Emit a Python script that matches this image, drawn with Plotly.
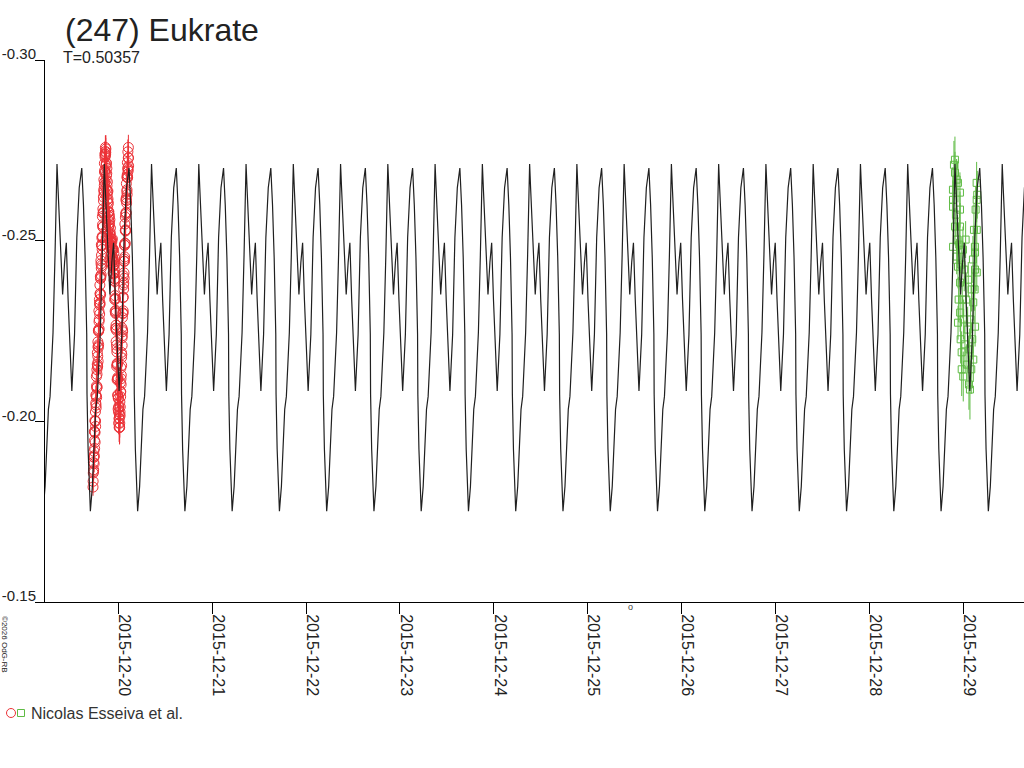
import pandas as pd
import plotly.graph_objects as go

# ---------------- data ----------------
title_text = "(247) Eukrate"
period_label = "T=0.50357"
observer = "Nicolas Esseiva et al."
credit = "©2026 OdG-RB"
marker_note = "o"

ref_date = "2015-12-20"          # day offsets below are relative to this date (UT)
period_days = 0.50357
epoch_days = 1.8645              # time of the main maximum of the model curve

# one cycle of the model light curve (phase in units of the period, magnitude)
profile_phase = [0.000, 0.021, 0.050, 0.071, 0.099, 0.119, 0.160, 0.197, 0.235, 0.266,
                 0.294, 0.314, 0.371, 0.419, 0.470, 0.524, 0.560, 0.595, 0.629, 0.635,
                 0.658, 0.686, 0.706, 0.748, 0.784, 0.818, 0.853, 0.889, 0.916, 0.958,
                 0.979]
profile_mag = [-0.2712, -0.2646, -0.2553, -0.2461, -0.2378, -0.2351, -0.2440, -0.2494, -0.2337, -0.2227,
               -0.2144, -0.2084, -0.2240, -0.2508, -0.2646, -0.2701, -0.2599, -0.2453, -0.2240, -0.2075,
               -0.1923, -0.1793, -0.1751, -0.1820, -0.1959, -0.2033, -0.2069, -0.2163, -0.2246, -0.2461,
               -0.2646]

red_days = [-0.2696, -0.2669, -0.2643, -0.2616, -0.2589, -0.2563, -0.2536, -0.2510, -0.2483, -0.2456,
            -0.2430, -0.2403, -0.2376, -0.2350, -0.2323, -0.2296, -0.2270, -0.2243, -0.2217, -0.2190,
            -0.2163, -0.2137, -0.2110, -0.2083, -0.2057, -0.2030, -0.2003, -0.1977, -0.1950, -0.1924,
            -0.1897, -0.1870, -0.1844, -0.1817, -0.1790, -0.1764, -0.1737, -0.1710, -0.1684, -0.1657,
            -0.1631, -0.1604, -0.1577, -0.1551, -0.1524, -0.1497, -0.1471, -0.1444, -0.1417, -0.1391,
            -0.1364, -0.1338, -0.1311, -0.1284, -0.1258, -0.1231, -0.1204, -0.1178, -0.1151, -0.1124,
            -0.1098, -0.1071, -0.1045, -0.1018, -0.0991, -0.0965, -0.0938, -0.0911, -0.0885, -0.0858,
            -0.0831, -0.0805, -0.0778, -0.0752, -0.0725, -0.0698, -0.0672, -0.0645, -0.0618, -0.0592,
            -0.0565, -0.0538, -0.0512, -0.0485, -0.0459, -0.0432, -0.0405, -0.0379, -0.0352, -0.0325,
            -0.0299, -0.0272, -0.0245, -0.0219, -0.0192, -0.0166, -0.0139, -0.0112, -0.0086, -0.0059,
            -0.0032, -0.0006, 0.0021, 0.0048, 0.0074, 0.0101, 0.0128, 0.0154, 0.0181, 0.0208,
            0.0234, 0.0261, 0.0287, 0.0314, 0.0341, 0.0367, 0.0394, 0.0421, 0.0447, 0.0474,
            0.0501, 0.0527, 0.0554, 0.0580, 0.0607, 0.0634, 0.0660, 0.0687, 0.0714, 0.0740,
            0.0767, 0.0793, 0.0820, 0.0847, 0.0873, 0.0900, 0.0927, 0.0953, 0.0980, 0.1006,
            0.1033, 0.1060, 0.1086]
red_mag = [-0.1818, -0.1857, -0.1862, -0.1901, -0.1901, -0.1905, -0.1947, -0.1971, -0.1969, -0.2000,
           -0.2001, -0.2051, -0.2045, -0.2070, -0.2098, -0.2092, -0.2130, -0.2158, -0.2153, -0.2180,
           -0.2207, -0.2204, -0.2249, -0.2252, -0.2276, -0.2282, -0.2327, -0.2322, -0.2353, -0.2354,
           -0.2395, -0.2398, -0.2436, -0.2424, -0.2460, -0.2486, -0.2487, -0.2512, -0.2544, -0.2538,
           -0.2576, -0.2577, -0.2610, -0.2641, -0.2637, -0.2653, -0.2690, -0.2695, -0.2731, -0.2735,
           -0.2747,
           -0.2744, -0.2708, -0.2714, -0.2680, -0.2686, -0.2652, -0.2627, -0.2636, -0.2607, -0.2615,
           -0.2578, -0.2579, -0.2556, -0.2566, -0.2543, -0.2550, -0.2519, -0.2516, -0.2522, -0.2488,
           -0.2499, -0.2479, -0.2494, -0.2463, -0.2475, -0.2453, -0.2477, -0.2456, -0.2474, -0.2445,
           -0.2449, -0.2430, -0.2440, -0.2411, -0.2421, -0.2395, -0.2395, -0.2348, -0.2341, -0.2299,
           -0.2301, -0.2266, -0.2258, -0.2211, -0.2201, -0.2158, -0.2156, -0.2118, -0.2116, -0.2071,
           -0.2063, -0.2026, -0.2039, -0.2007, -0.2009, -0.1984,
           -0.1995, -0.2026, -0.2040, -0.2081, -0.2082, -0.2118, -0.2128, -0.2176, -0.2185, -0.2231,
           -0.2237, -0.2253, -0.2298, -0.2300, -0.2344, -0.2377, -0.2383, -0.2411, -0.2449, -0.2443,
           -0.2487, -0.2493, -0.2528, -0.2530, -0.2573, -0.2578, -0.2619, -0.2611, -0.2636, -0.2641,
           -0.2683, -0.2676, -0.2701, -0.2697, -0.2729, -0.2729]
red_err = [0.0024, 0.0021, 0.0027, 0.0019, 0.0025, 0.0022, 0.0028, 0.0020, 0.0023, 0.0026,
           0.0021, 0.0024, 0.0019, 0.0027, 0.0022, 0.0025, 0.0020, 0.0028, 0.0023, 0.0021,
           0.0026, 0.0019, 0.0024, 0.0022, 0.0027, 0.0020, 0.0025, 0.0023, 0.0021, 0.0028,
           0.0024, 0.0020, 0.0026, 0.0022, 0.0027, 0.0021, 0.0025, 0.0023, 0.0029, 0.0024,
           0.0031, 0.0026, 0.0033, 0.0028, 0.0036, 0.0030, 0.0039, 0.0034, 0.0042, 0.0037,
           0.0044,
           0.0040, 0.0036, 0.0041, 0.0033, 0.0038, 0.0030, 0.0034, 0.0028, 0.0031, 0.0026,
           0.0029, 0.0024, 0.0027, 0.0022, 0.0026, 0.0021, 0.0025, 0.0023, 0.0020, 0.0024,
           0.0022, 0.0026, 0.0021, 0.0025, 0.0020, 0.0023, 0.0027, 0.0022, 0.0024, 0.0021,
           0.0026, 0.0023, 0.0020, 0.0025, 0.0022, 0.0027, 0.0021, 0.0024, 0.0026, 0.0022,
           0.0025, 0.0028, 0.0023, 0.0027, 0.0030, 0.0025, 0.0029, 0.0032, 0.0027, 0.0031,
           0.0035, 0.0030, 0.0038, 0.0042, 0.0036, 0.0048,
           0.0040, 0.0034, 0.0031, 0.0028, 0.0025, 0.0027, 0.0023, 0.0026, 0.0021, 0.0024,
           0.0022, 0.0025, 0.0020, 0.0023, 0.0026, 0.0021, 0.0024, 0.0022, 0.0027, 0.0023,
           0.0025, 0.0021, 0.0026, 0.0024, 0.0028, 0.0023, 0.0027, 0.0025, 0.0029, 0.0026,
           0.0031, 0.0028, 0.0033, 0.0030, 0.0036, 0.0034]

# second, interleaved block of the same night's measurements
red2_days = [-0.2683, -0.2656, -0.2630, -0.2603, -0.2576, -0.2550, -0.2523, -0.2497, -0.2470, -0.2443,
             -0.2417, -0.2390, -0.2363, -0.2337, -0.2310, -0.2283, -0.2257, -0.2230, -0.2204, -0.2177,
             -0.2150, -0.2124, -0.2097, -0.2070, -0.2044, -0.2017, -0.1990, -0.1964, -0.1937, -0.1911,
             -0.1884, -0.1857, -0.1831, -0.1804, -0.1777, -0.1751, -0.1724, -0.1697, -0.1671, -0.1644,
             -0.1618, -0.1591, -0.1564, -0.1538, -0.1511, -0.1484, -0.1458, -0.1431, -0.1404, -0.1378,
             -0.1351,
             -0.1325, -0.1298, -0.1271, -0.1245, -0.1218, -0.1191, -0.1165, -0.1138, -0.1111,
             -0.1085, -0.1058, -0.1032, -0.1005, -0.0978, -0.0952, -0.0925, -0.0898, -0.0872, -0.0845,
             -0.0818, -0.0792, -0.0765, -0.0739, -0.0712, -0.0685, -0.0659, -0.0632, -0.0605, -0.0579,
             -0.0552, -0.0525, -0.0499, -0.0472, -0.0446, -0.0419, -0.0392, -0.0366, -0.0339, -0.0312,
             -0.0286, -0.0259, -0.0232, -0.0206, -0.0179, -0.0153, -0.0126, -0.0099, -0.0073, -0.0046,
             -0.0019, 0.0007, 0.0034, 0.0061, 0.0087, 0.0114, 0.0141,
             0.0167, 0.0194, 0.0221,
             0.0247, 0.0274, 0.0300, 0.0327, 0.0354, 0.0380, 0.0407, 0.0434, 0.0460, 0.0487,
             0.0514, 0.0540, 0.0567, 0.0593, 0.0620, 0.0647, 0.0673, 0.0700, 0.0727, 0.0753,
             0.0780, 0.0806, 0.0833, 0.0860, 0.0886, 0.0913, 0.0940, 0.0966, 0.0993, 0.1019,
             0.1046, 0.1073, 0.1099]
red2_mag = [-0.1834, -0.1886, -0.1866, -0.1917, -0.1883, -0.1972, -0.1925, -0.2002, -0.1942, -0.2026,
            -0.1986, -0.2073, -0.2037, -0.2124, -0.2066, -0.2143, -0.2095, -0.2190, -0.2151, -0.2220,
            -0.2166, -0.2252, -0.2212, -0.2306, -0.2256, -0.2337, -0.2297, -0.2377, -0.2326, -0.2401,
            -0.2350, -0.2445, -0.2405, -0.2489, -0.2431, -0.2508, -0.2476, -0.2567, -0.2509, -0.2588,
            -0.2538, -0.2621, -0.2580, -0.2669, -0.2631, -0.2714, -0.2662, -0.2740, -0.2688, -0.2758,
            -0.2739,
            -0.2754, -0.2667, -0.2715, -0.2641, -0.2700, -0.2614, -0.2663, -0.2592, -0.2637, -0.2545,
            -0.2603, -0.2538, -0.2580, -0.2508, -0.2570, -0.2500, -0.2558, -0.2487, -0.2535, -0.2457,
            -0.2506, -0.2439, -0.2504, -0.2437, -0.2497, -0.2444, -0.2505, -0.2429, -0.2478, -0.2410,
            -0.2475, -0.2408, -0.2465, -0.2390, -0.2433, -0.2337, -0.2387, -0.2305, -0.2338, -0.2257,
            -0.2307, -0.2221, -0.2252, -0.2152, -0.2192, -0.2115, -0.2161, -0.2073, -0.2122, -0.2034,
            -0.2065, -0.1995, -0.2041, -0.1983, -0.2018, -0.1983,
            -0.2054, -0.2016, -0.2107, -0.2068, -0.2148, -0.2102, -0.2191, -0.2155, -0.2259, -0.2210,
            -0.2287, -0.2248, -0.2342, -0.2306, -0.2403, -0.2366, -0.2443, -0.2396, -0.2488, -0.2455,
            -0.2546, -0.2492, -0.2565, -0.2527, -0.2613, -0.2577, -0.2658, -0.2604, -0.2676, -0.2628,
            -0.2716, -0.2674, -0.2746, -0.2693, -0.2758, -0.2707]
red2_err = [0.0026, 0.0022, 0.0029, 0.0020, 0.0024, 0.0027, 0.0021, 0.0025, 0.0023, 0.0028,
            0.0020, 0.0026, 0.0022, 0.0029, 0.0024, 0.0021, 0.0027, 0.0023, 0.0025, 0.0020,
            0.0028, 0.0022, 0.0026, 0.0024, 0.0021, 0.0027, 0.0023, 0.0029, 0.0025, 0.0022,
            0.0026, 0.0020, 0.0028, 0.0024, 0.0021, 0.0027, 0.0023, 0.0025, 0.0030, 0.0026,
            0.0032, 0.0027, 0.0034, 0.0029, 0.0037, 0.0031, 0.0040, 0.0035, 0.0038, 0.0033,
            0.0036,
            0.0038, 0.0034, 0.0039, 0.0031, 0.0036, 0.0029, 0.0033, 0.0027, 0.0030, 0.0025,
            0.0028, 0.0023, 0.0026, 0.0021, 0.0025, 0.0022, 0.0024, 0.0020, 0.0023, 0.0026,
            0.0021, 0.0025, 0.0022, 0.0027, 0.0020, 0.0024, 0.0026, 0.0021, 0.0023, 0.0025,
            0.0022, 0.0027, 0.0024, 0.0020, 0.0026, 0.0023, 0.0025, 0.0021, 0.0027, 0.0024,
            0.0026, 0.0022, 0.0028, 0.0025, 0.0029, 0.0026, 0.0031, 0.0028, 0.0033, 0.0030,
            0.0034, 0.0031, 0.0036, 0.0040, 0.0035, 0.0044,
            0.0038, 0.0033, 0.0030, 0.0027, 0.0024, 0.0026, 0.0022, 0.0025, 0.0020, 0.0023,
            0.0021, 0.0024, 0.0026, 0.0022, 0.0025, 0.0020, 0.0023, 0.0027, 0.0021, 0.0024,
            0.0026, 0.0022, 0.0025, 0.0023, 0.0027, 0.0024, 0.0028, 0.0026, 0.0030, 0.0027,
            0.0032, 0.0029, 0.0034, 0.0031, 0.0035, 0.0033]

green_days = [8.8929, 8.8934, 8.8939, 8.8944, 8.9036, 8.9142, 8.9147, 8.9152, 8.9249, 8.9323,
              8.9328, 8.9409, 8.9462, 8.9467, 8.9472, 8.9537, 8.9601, 8.9675, 8.9680, 8.9685,
              8.9690, 8.9695, 8.9750, 8.9814, 8.9857, 8.9862, 8.9920, 8.9995, 9.0027, 9.0069,
              9.0133, 9.0208, 9.0282, 9.0346, 9.0421, 9.0495, 9.0559, 9.0634, 9.0708, 9.0740,
              9.0815, 9.0879, 9.0921, 9.0985, 9.1060, 9.1092, 9.1097, 9.1166, 9.1241, 9.1273,
              9.1278, 9.1283, 9.1288, 9.1347, 9.1454, 9.1459, 9.1464, 9.1469, 9.1518]
green_mag = [-0.2641, -0.2613, -0.2594, -0.2483, -0.2710, -0.2724, -0.2688, -0.2539, -0.2572, -0.2669,
             -0.2456, -0.2503, -0.2660, -0.2428, -0.2273, -0.2337, -0.2489, -0.2633, -0.2586, -0.2539,
             -0.2384, -0.2301, -0.2227, -0.2434, -0.2191, -0.2144, -0.2337, -0.2475, -0.2124, -0.2282,
             -0.2420, -0.2213, -0.2503, -0.2337, -0.2157, -0.2254, -0.2392, -0.2102, -0.2199, -0.2088,
             -0.2282, -0.2144, -0.2365, -0.2227, -0.2448, -0.2329, -0.2171, -0.2530, -0.2365, -0.2483,
             -0.2467, -0.2420, -0.2262, -0.2586, -0.2660, -0.2613, -0.2530, -0.2412, -0.2627]
green_err = [0.0062, 0.0055, 0.0070, 0.0048, 0.0066, 0.0064, 0.0058, 0.0052, 0.0061, 0.0057,
             0.0049, 0.0068, 0.0054, 0.0060, 0.0047, 0.0063, 0.0071, 0.0056, 0.0050, 0.0065,
             0.0059, 0.0053, 0.0067, 0.0061, 0.0058, 0.0074, 0.0052, 0.0064, 0.0069, 0.0055,
             0.0060, 0.0066, 0.0051, 0.0072, 0.0057, 0.0063, 0.0049, 0.0070, 0.0058, 0.0083,
             0.0054, 0.0068, 0.0061, 0.0056, 0.0065, 0.0050, 0.0062, 0.0071, 0.0059, 0.0053,
             0.0067, 0.0060, 0.0055, 0.0064, 0.0058, 0.0062, 0.0069, 0.0052, 0.0066]

y_tick_vals = [-0.30, -0.25, -0.20, -0.15]
y_tick_text = ["-0.30", "-0.25", "-0.20", "-0.15"]
x_range = ["2015-12-19 05:15", "2015-12-29 15:36"]
y_range = [-0.15, -0.30]

# ---------------- styles ----------------
RED = "#ec3237"
GREEN = "#5fbb44"
LINE = "#202020"
TXT = "#222222"
FONT = "Liberation Sans, Arial, sans-serif"

base = pd.Timestamp(ref_date)


def to_time(days):
    return [base + pd.to_timedelta(d, unit="D") for d in days]


# model curve: the read cycle repeated with the stated period
model_days = []
model_mag = []
for n in range(-6, 17):
    for ph, m in zip(profile_phase, profile_mag):
        model_days.append(epoch_days + (n + ph) * period_days)
        model_mag.append(m)

fig = go.Figure()

fig.add_trace(go.Scatter(
    x=to_time(red_days + red2_days), y=red_mag + red2_mag, mode="markers",
    name=observer, showlegend=False,
    marker=dict(symbol="circle-open", size=10, color=RED, line=dict(width=1, color=RED)),
    error_y=dict(type="data", array=red_err + red2_err, visible=True, thickness=1, width=0,
                 color=RED),
))
fig.add_trace(go.Scatter(
    x=to_time(green_days), y=green_mag, mode="markers", name=observer, showlegend=False,
    marker=dict(symbol="square-open", size=7, color=GREEN, line=dict(width=1, color=GREEN)),
    error_y=dict(type="data", array=green_err, visible=True, thickness=1, width=0, color=GREEN),
))
fig.add_trace(go.Scatter(
    x=to_time(model_days), y=model_mag, mode="lines", showlegend=False,
    line=dict(color=LINE, width=1.2),
))

fig.update_layout(
    width=1024, height=768,
    margin=dict(l=45, r=0, t=60, b=166, pad=0),
    paper_bgcolor="white", plot_bgcolor="white",
    font=dict(family=FONT, color=TXT),
    showlegend=False,
    title=dict(text=title_text, x=65 / 1024, xanchor="left", xref="container",
               y=1 - 30 / 768, yanchor="middle",
               font=dict(family=FONT, size=32, color=TXT)),
)

fig.update_xaxes(
    type="date", range=x_range, tickformat="%Y-%m-%d", dtick=86400000, tick0=ref_date,
    tickangle=90, ticks="outside", ticklen=11, tickcolor="black", tickwidth=1,
    showline=True, linecolor="black", linewidth=1, showgrid=False, zeroline=False,
    ticklabelshift=6, ticklabelstandoff=-3,
    tickfont=dict(family=FONT, size=16, color=TXT),
)
fig.update_yaxes(
    range=y_range, tickmode="array", tickvals=y_tick_vals, ticktext=y_tick_text,
    ticks="outside", ticklen=9, tickcolor="black", tickwidth=1,
    showline=True, linecolor="black", linewidth=1, showgrid=False, zeroline=False,
    ticklabelshift=6, ticklabelstandoff=-4,
    tickfont=dict(family=FONT, size=15, color=TXT),
)

# subtitle with the period
fig.add_annotation(text=period_label, xref="paper", yref="paper", x=0, y=1,
                   xshift=16, yshift=2.5, xanchor="left", yanchor="middle",
                   showarrow=False, font=dict(family=FONT, size=16, color=TXT))

# small marker below the axis
fig.add_annotation(text=marker_note, xref="paper", yref="paper", x=(630 - 45) / 979, y=0,
                   yshift=-5, xanchor="center", yanchor="middle",
                   showarrow=False, font=dict(family=FONT, size=9, color="#444444"))

# credit, rotated
fig.add_annotation(text=credit, xref="paper", yref="paper", x=0, y=0,
                   xshift=-40, yshift=-42, xanchor="center", yanchor="middle", textangle=90,
                   showarrow=False, font=dict(family=FONT, size=8, color=TXT))

# legend row drawn by hand: red circle, green square, observer name
fig.add_shape(type="circle", xref="paper", yref="paper", xsizemode="pixel", ysizemode="pixel",
              xanchor=0, yanchor=0, x0=-38.5, x1=-29.5, y0=-115.5, y1=-106.5,
              line=dict(color=RED, width=1))
fig.add_shape(type="rect", xref="paper", yref="paper", xsizemode="pixel", ysizemode="pixel",
              xanchor=0, yanchor=0, x0=-27.5, x1=-20.5, y0=-114.5, y1=-107.5,
              line=dict(color=GREEN, width=1))
fig.add_annotation(text=observer, xref="paper", yref="paper", x=0, y=0,
                   xshift=-16, yshift=-111, xanchor="left", yanchor="middle",
                   showarrow=False, font=dict(family=FONT, size=16, color="#333333"))

fig.write_html("out.html", config={"displayModeBar": False},
               post_script="document.body.style.margin='0';document.body.style.overflow='hidden';")
